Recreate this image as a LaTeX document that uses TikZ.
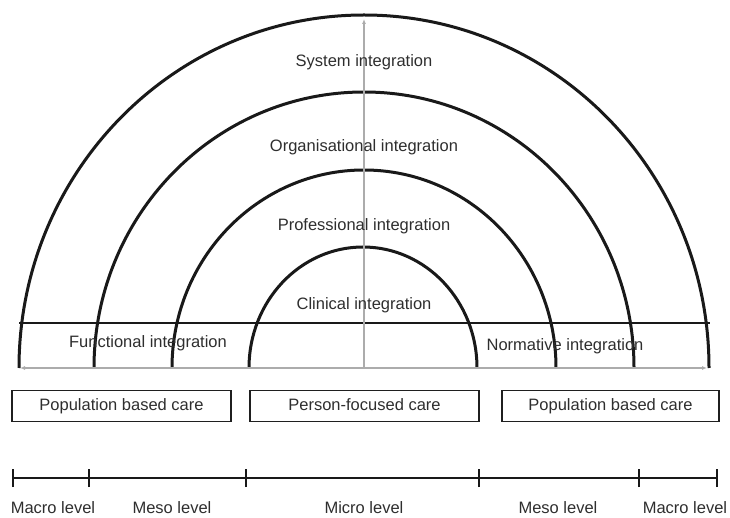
\documentclass[tikz,border=0pt]{standalone}
\usepackage{fontspec}
\setmainfont{Liberation Sans}
\usetikzlibrary{arrows.meta}
\begin{document}
\begin{tikzpicture}[x=1pt,y=1pt,
  arcline/.style={line width=3pt,black!90},
  axisline/.style={line width=1.4pt,gray!65,-{Latex[length=5pt,width=4pt]}},
  lbl/.style={font=\fontsize{16.5}{18}\selectfont,text=black!82,inner sep=0pt,text height=12pt,text depth=3.5pt},
  carebox/.style={draw,line width=1.5pt,black!88,minimum height=31pt,inner sep=0pt,font=\fontsize{16.5}{18}\selectfont,text=black!82,text height=12pt,text depth=3.5pt},
  tick/.style={line width=2.8pt,black!90}]
\useasboundingbox (0,0) rectangle (730,517);
% coordinates
\coordinate (c) at (364,149);
\coordinate (bl) at (20,149);
\coordinate (br) at (707,149);
\coordinate (hl) at (19,194);
\coordinate (hr) at (710,194);
\coordinate (ctop) at (364,194);
\coordinate (atop) at (364,498);
% arcs
\draw[arcline] (19,149) arc[start angle=180,end angle=0,x radius=345,y radius=353];
\draw[arcline] (94,149) arc[start angle=180,end angle=0,x radius=270,y radius=276];
\draw[arcline] (172,149) arc[start angle=180,end angle=0,x radius=192,y radius=198];
\draw[arcline] (249,149) arc[start angle=180,end angle=0,x radius=114,y radius=121];
% horizontal line
\draw[line width=2.8pt,black!90] (hl) -- (hr);
\draw[line width=2.8pt,black!90] (c) -- (ctop);
% gray axes
\draw[axisline,{Latex[length=5pt,width=4pt]}-{Latex[length=5pt,width=4pt]}] (br) -- (bl);
\draw[axisline] (c) -- (atop);
% labels
\node[lbl] (sys) at (364,455) {System integration};
\node[lbl] (org) at (364,370) {Organisational integration};
\node[lbl] (pro) at (364,291) {Professional integration};
\node[lbl] (cli) at (364,212) {Clinical integration};
\node[lbl] (fun) at (148,174) {Functional integration};
\node[lbl] (nor) at (565,171) {Normative integration};
% boxes
\node[carebox,minimum width=219pt] (pbl) at (121.5,111) {Population based care};
\node[carebox,minimum width=229pt] (pfc) at (364.5,111) {Person-focused care};
\node[carebox,minimum width=217pt] (pbr) at (610.5,111) {Population based care};
% timeline
\coordinate (t1) at (13,39);
\coordinate (t2) at (89,39);
\coordinate (t3) at (246,39);
\coordinate (t4) at (479,39);
\coordinate (t5) at (639,39);
\coordinate (t6) at (717,39);
\draw[tick] (t1) -- (t6);
\foreach \t in {t1,t2,t3,t4,t5,t6} \draw[tick] ([yshift=-9pt]\t) -- ([yshift=9pt]\t);
\node[lbl] (m1) at (53,8) {Macro level};
\node[lbl] (m2) at (172,8) {Meso level};
\node[lbl] (m3) at (364,8) {Micro level};
\node[lbl] (m4) at (558,8) {Meso level};
\node[lbl] (m5) at (685,8) {Macro level};
\end{tikzpicture}
\end{document}
